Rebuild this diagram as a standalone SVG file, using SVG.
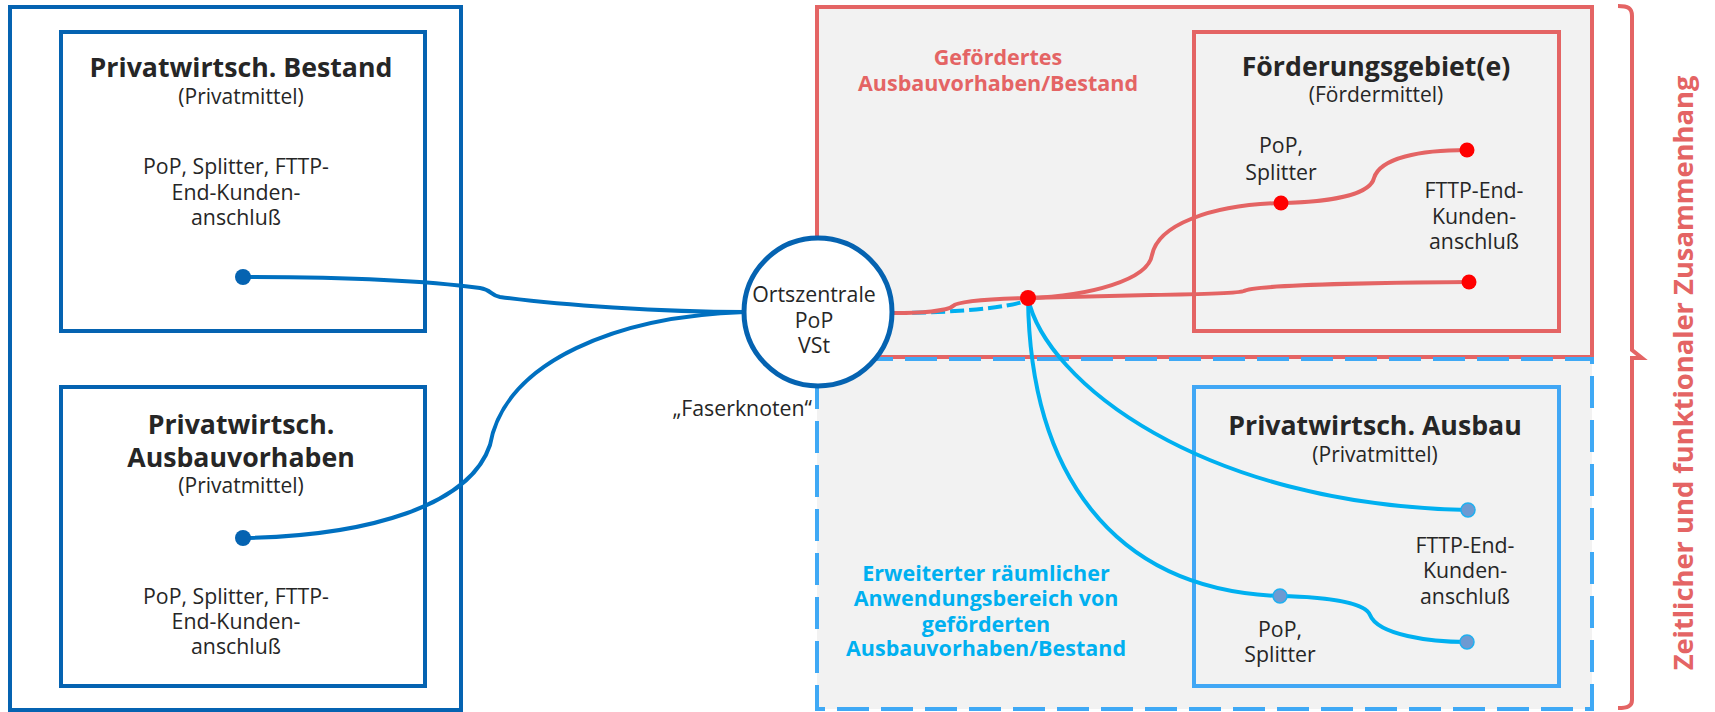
<svg xmlns="http://www.w3.org/2000/svg" width="1715" height="712" viewBox="0 0 1715 712">
<defs>
<style>
text{font-family:"Open Sans","Noto Sans","Liberation Sans",sans-serif;fill:#262626;text-anchor:middle}
.t{font-size:26.7px;font-weight:bold}
.s{font-size:21px}
.b{font-size:21.3px}
.pl{font-size:21.5px;font-weight:bold;fill:#e46464}
.bl{font-size:21.5px;font-weight:bold;fill:#00b0f0}
.dk{fill:none;stroke:#0563b1;stroke-width:4}
.lb{fill:none;stroke:#0070c0;stroke-width:4}
.rd{fill:none;stroke:#e46464;stroke-width:4}
.cy{fill:none;stroke:#00b0f0;stroke-width:4}
.rdot{fill:#ff0000}
.bdot{fill:#6d9ad2;stroke:#1fb0f0;stroke-width:1.5}
.ddot{fill:#0563b1}
</style>
</defs>
<g id="left-area">
<rect x="10" y="7" width="451" height="703" class="dk"/>
</g>
<g id="node-bestand">
<rect x="61" y="32" width="364" height="299" class="dk"/>
<text x="241" y="77" class="t">Privatwirtsch. Bestand</text>
<text x="241" y="104" class="s">(Privatmittel)</text>
<text x="236" y="174" class="b">PoP, Splitter, FTTP-</text>
<text x="236" y="200" class="b">End-Kunden-</text>
<text x="236" y="225" class="b">anschluß</text>
</g>
<g id="node-ausbauvorhaben">
<rect x="61" y="387" width="364" height="299" class="dk"/>
<text x="241" y="434" class="t">Privatwirtsch.</text>
<text x="241" y="467" class="t">Ausbauvorhaben</text>
<text x="241" y="493" class="s">(Privatmittel)</text>
<text x="236" y="604" class="b">PoP, Splitter, FTTP-</text>
<text x="236" y="629" class="b">End-Kunden-</text>
<text x="236" y="654" class="b">anschluß</text>
</g>
<g id="area-gefoerdert">
<rect x="817" y="7" width="775" height="350" fill="#f2f2f2" stroke="#e46464" stroke-width="4"/>
<text x="998" y="65" class="pl">Gefördertes</text>
<text x="998" y="91" class="pl">Ausbauvorhaben/Bestand</text>
</g>
<g id="area-erweitert">
<rect x="817" y="359" width="775" height="350" fill="#f2f2f2" stroke="none"/>
<path d="M817,359 H1592 V709 H817 Z" fill="none" stroke="#3fa9f5" stroke-width="4" stroke-dasharray="32 12"/>
<text x="986" y="581" class="bl">Erweiterter räumlicher</text>
<text x="986" y="606" class="bl">Anwendungsbereich von</text>
<text x="986" y="632" class="bl">geförderten</text>
<text x="986" y="656" class="bl">Ausbauvorhaben/Bestand</text>
</g>
<g id="node-foerdergebiet">
<rect x="1194" y="32" width="365" height="299" fill="none" stroke="#e46464" stroke-width="4"/>
<text x="1376" y="76" class="t">Förderungsgebiet(e)</text>
<text x="1376" y="102" class="s">(Fördermittel)</text>
<text x="1281" y="153" class="b">PoP,</text>
<text x="1281" y="180" class="b">Splitter</text>
<text x="1474" y="198" class="b">FTTP-End-</text>
<text x="1474" y="224" class="b">Kunden-</text>
<text x="1474" y="249" class="b">anschluß</text>
</g>
<g id="node-privat-ausbau">
<rect x="1194" y="387" width="365" height="299" fill="none" stroke="#41a7f5" stroke-width="4"/>
<text x="1375" y="435" class="t">Privatwirtsch. Ausbau</text>
<text x="1375" y="462" class="s">(Privatmittel)</text>
<text x="1465" y="553" class="b">FTTP-End-</text>
<text x="1465" y="578" class="b">Kunden-</text>
<text x="1465" y="604" class="b">anschluß</text>
<text x="1280" y="637" class="b">PoP,</text>
<text x="1280" y="662" class="b">Splitter</text>
</g>
<g id="connectors">
<path class="lb" d="M243,277 C330,277 420,280 480,288 C492,290 490,295 500,297 C560,305 660,312 745,312"/>
<path class="lb" d="M243,538 C370,536 470,505 490,445 C505,360 620,316 745,312"/>
<path d="M893,313 C950,313 1010,308 1028,300" fill="none" stroke="#00b0f0" stroke-width="4" stroke-dasharray="14 5"/>
<path class="cy" d="M1028,298 C1030,470 1110,590 1280,596"/>
<path class="cy" d="M1028,298 C1045,380 1200,505 1468,510"/>
<path class="cy" d="M1280,596 C1330,597 1365,603 1370,615 C1378,635 1430,642 1467,642"/>
<path class="rd" d="M893,313 C920,313 948,311 953,306 C958,301 990,299 1028,298"/>
<path class="rd" d="M1028,298 C1090,296 1148,280 1152,255 C1158,225 1210,205 1281,203"/>
<path class="rd" d="M1281,203 C1330,202 1370,195 1374,178 C1380,158 1420,150 1467,150"/>
<path class="rd" d="M1028,298 L1150,295 C1220,294 1240,293 1244,291 C1250,287 1320,283 1469,282"/>
</g>
<g id="node-ortszentrale">
<circle cx="818" cy="312" r="74" fill="#ffffff" stroke="#0563b1" stroke-width="5"/>
<text x="814" y="302" class="b">Ortszentrale</text>
<text x="814" y="328" class="b">PoP</text>
<text x="814" y="353" class="b">VSt</text>
<text x="812" y="416" class="b" style="text-anchor:end">„Faserknoten“</text>
</g>
<g id="dots">
<circle cx="243" cy="277" r="8" class="ddot"/>
<circle cx="243" cy="538" r="8" class="ddot"/>
<circle cx="1028" cy="298" r="8" class="rdot"/>
<circle cx="1281" cy="203" r="7.5" class="rdot"/>
<circle cx="1467" cy="150" r="7.5" class="rdot"/>
<circle cx="1469" cy="282" r="7.5" class="rdot"/>
<circle cx="1468" cy="510" r="7" class="bdot"/>
<circle cx="1280" cy="596" r="7" class="bdot"/>
<circle cx="1467" cy="642" r="7" class="bdot"/>
</g>
<g id="brace">
<path d="M1618,6 C1628,6 1632,8 1632,16 V350 L1642,358 H1632 V700 C1632,706 1628,708 1618,708" fill="none" stroke="#e46464" stroke-width="4"/>
<text x="0" y="0" transform="translate(1693,373) rotate(-90)" style="font-size:27.3px;font-weight:bold;fill:#e46464">Zeitlicher und funktionaler Zusammenhang</text>
</g>
</svg>
